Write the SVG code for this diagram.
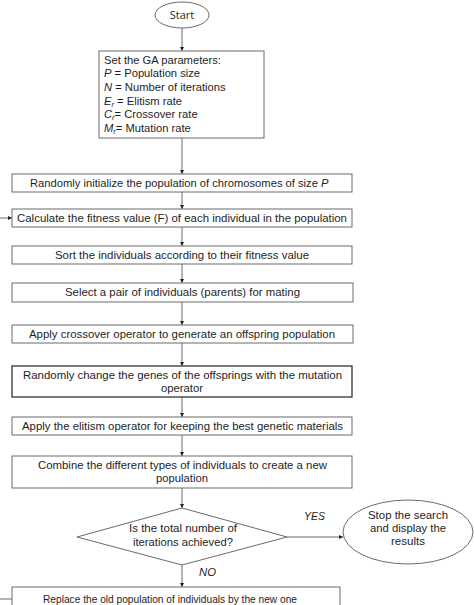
<svg xmlns="http://www.w3.org/2000/svg" width="474" height="605" viewBox="0 0 474 605">
<style>
.box{fill:#fff;stroke:#6b6b6b;stroke-width:1}
.t{font-family:"Liberation Sans",Arial,sans-serif;font-size:11.2px;fill:#1e1e1e}
.i{font-style:italic}
.c{fill:none;stroke:#6b6b6b;stroke-width:1}
</style>
<defs>
<marker id="ah" viewBox="0 0 6 6" refX="6" refY="3" markerWidth="4" markerHeight="4" orient="auto" markerUnits="userSpaceOnUse">
<path d="M0,0 L6,3 L0,6 z" fill="#222"/>
</marker>
</defs>
<rect width="474" height="605" fill="#fff"/>
<g id="connectors">
<line class="c" x1="182" y1="28" x2="182" y2="51" marker-end="url(#ah)"/>
<line class="c" x1="182" y1="138" x2="182" y2="174" marker-end="url(#ah)"/>
<line class="c" x1="182" y1="192" x2="182" y2="209" marker-end="url(#ah)"/>
<line class="c" x1="182" y1="227" x2="182" y2="246" marker-end="url(#ah)"/>
<line class="c" x1="182" y1="264" x2="182" y2="283" marker-end="url(#ah)"/>
<line class="c" x1="182" y1="302" x2="182" y2="325" marker-end="url(#ah)"/>
<line class="c" x1="182" y1="343" x2="182" y2="366" marker-end="url(#ah)"/>
<line class="c" x1="182" y1="397" x2="182" y2="417" marker-end="url(#ah)"/>
<line class="c" x1="182" y1="435" x2="182" y2="456" marker-end="url(#ah)"/>
<line class="c" x1="182" y1="488" x2="182" y2="508" marker-end="url(#ah)"/>
<line class="c" x1="182" y1="565" x2="182" y2="587" marker-end="url(#ah)"/>
<line class="c" x1="287" y1="537" x2="343" y2="537" marker-end="url(#ah)"/>
<line class="c" x1="0" y1="218" x2="12" y2="218" marker-end="url(#ah)"/>
<line class="c" x1="0" y1="599" x2="12" y2="599"/>
<text class="t i" x="304" y="520" textLength="21" lengthAdjust="spacingAndGlyphs">YES</text>
<text class="t i" x="199" y="576" textLength="17" lengthAdjust="spacingAndGlyphs">NO</text>
</g>
<g id="start">
<ellipse class="box" cx="182" cy="15" rx="27" ry="13"/>
<text x="182" y="19" text-anchor="middle" style="font-family:'Open Sans','Liberation Sans',sans-serif;font-size:11px;fill:#1e1e1e">Start</text>
</g>
<g id="params">
<rect class="box" x="99" y="51" width="165" height="87"/>
<text class="t" x="104" y="64">Set the GA parameters:</text>
<text class="t" x="104" y="77"><tspan class="i">P</tspan> = Population size</text>
<text class="t" x="104" y="91"><tspan class="i">N</tspan> = Number of iterations</text>
<text class="t" x="104" y="105"><tspan class="i">E</tspan><tspan class="i" font-size="7.5" dy="2">r</tspan><tspan dy="-2"> = Elitism rate</tspan></text>
<text class="t" x="104" y="118"><tspan class="i">C</tspan><tspan class="i" font-size="7.5" dy="2">r</tspan><tspan dy="-2">= Crossover rate</tspan></text>
<text class="t" x="104" y="132"><tspan class="i">M</tspan><tspan class="i" font-size="7.5" dy="2">r</tspan><tspan dy="-2">= Mutation rate</tspan></text>
</g>
<g id="init">
<rect class="box" x="12" y="174" width="340" height="18"/>
<text class="t" x="30" y="187">Randomly initialize the population of chromosomes of size <tspan class="i">P</tspan></text>
</g>
<g id="fitness">
<rect class="box" x="12" y="209" width="340" height="18"/>
<text class="t" x="17" y="222" textLength="330" lengthAdjust="spacingAndGlyphs">Calculate the fitness value (F) of each individual in the population</text>
</g>
<g id="sort">
<rect class="box" x="12" y="246" width="340" height="18"/>
<text class="t" x="55" y="259" textLength="254" lengthAdjust="spacingAndGlyphs">Sort the individuals according to their fitness value</text>
</g>
<g id="select">
<rect class="box" x="12" y="283" width="341" height="19"/>
<text class="t" x="65" y="296" textLength="235" lengthAdjust="spacingAndGlyphs">Select a pair of individuals (parents) for mating</text>
</g>
<g id="crossover">
<rect class="box" x="12" y="325" width="341" height="18"/>
<text class="t" x="29" y="338" textLength="306" lengthAdjust="spacingAndGlyphs">Apply crossover operator to generate an offspring population</text>
</g>
<g id="mutation">
<rect class="box" x="12" y="366" width="340" height="31" style="stroke:#333;stroke-width:1.3"/>
<text class="t" x="23" y="379" textLength="319" lengthAdjust="spacingAndGlyphs">Randomly change the genes of the offsprings with the mutation</text>
<text class="t" x="161" y="392" textLength="42" lengthAdjust="spacingAndGlyphs">operator</text>
</g>
<g id="elitism">
<rect class="box" x="12" y="417" width="340" height="18"/>
<text class="t" x="22" y="430" textLength="321" lengthAdjust="spacingAndGlyphs">Apply the elitism operator for keeping the best genetic materials</text>
</g>
<g id="combine">
<rect class="box" x="12" y="456" width="340" height="32"/>
<text class="t" x="38" y="469" textLength="289" lengthAdjust="spacingAndGlyphs">Combine the different types of individuals to create a new</text>
<text class="t" x="156" y="482" textLength="52" lengthAdjust="spacingAndGlyphs">population</text>
</g>
<g id="decision">
<polygon class="box" points="182,508 287,537 182,565 77,537"/>
<text class="t" x="129" y="532" textLength="108" lengthAdjust="spacingAndGlyphs">Is the total number of</text>
<text class="t" x="133" y="546" textLength="100" lengthAdjust="spacingAndGlyphs">iterations achieved?</text>
</g>
<g id="stop">
<ellipse class="box" cx="408" cy="532" rx="65" ry="32"/>
<text class="t" x="408" y="519" text-anchor="middle" textLength="80" lengthAdjust="spacingAndGlyphs">Stop the search</text>
<text class="t" x="408" y="532" text-anchor="middle" textLength="76" lengthAdjust="spacingAndGlyphs">and display the</text>
<text class="t" x="408" y="545" text-anchor="middle" textLength="34" lengthAdjust="spacingAndGlyphs">results</text>
</g>
<g id="replace">
<rect class="box" x="12" y="587" width="328" height="30"/>
<text class="t" x="43" y="603" textLength="254" lengthAdjust="spacingAndGlyphs">Replace the old population of individuals by the new one</text>
</g>
</svg>
